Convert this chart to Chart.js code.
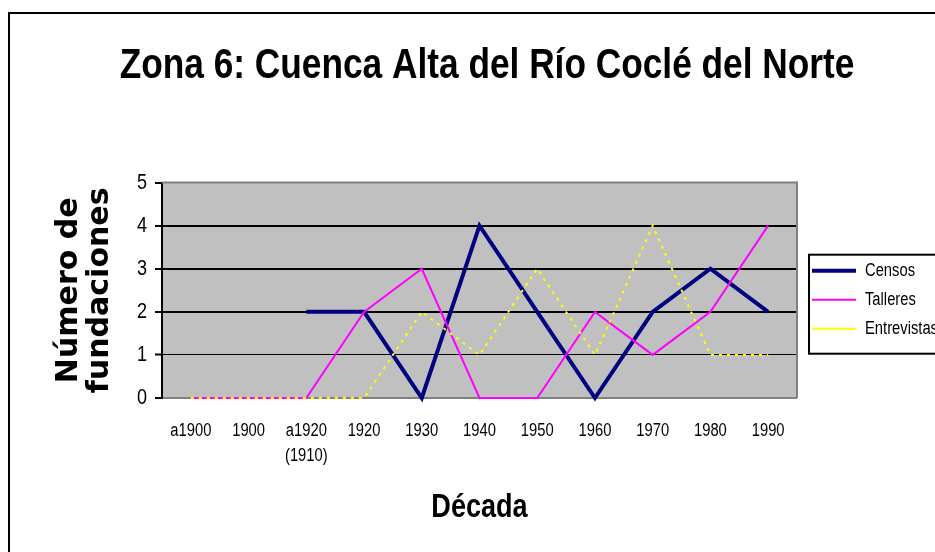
<!DOCTYPE html>
<html>
<head>
<meta charset="utf-8">
<script src="https://cdn.jsdelivr.net/npm/chart.js@4.4.1/dist/chart.umd.min.js"></script>
<style>
    html, body { margin: 0; padding: 0; background: #fff; overflow: hidden; }
    #frame { position: absolute; left: 8px; top: 12px; width: 957px; height: 560px; border: 2px solid #000; }
    canvas { display: block; }
</style>
</head>
<body>
<div id="frame"><canvas id="zonaChart" width="957" height="560"></canvas></div>
<script>
const decades = ['a1900', '1900', ['a1920', '(1910)'], '1920', '1930', '1940', '1950', '1960', '1970', '1980', '1990'];
const censos = [null, null, 2, 2, 0, 4, 2, 0, 2, 3, 2];
const talleres = [0, 0, 0, 2, 3, 0, 0, 2, 1, 2, 4];
const entrevistas = [0, 0, 0, 0, 2, 1, 3, 1, 4, 1, 1];
const yMin = 0, yMax = 5, yStep = 1;

const sans = "'Liberation Sans', Arial, sans-serif";
const NARROW = 0.82;

// the original uses a condensed Arial; squeeze Liberation Sans text horizontally
function condenseText(ctx) {
    const fill = ctx.fillText.bind(ctx);
    const measure = ctx.measureText.bind(ctx);
    const isNarrow = () => ctx.font.indexOf('Liberation') >= 0;
    ctx.fillText = function (text, x, y, maxWidth) {
        if (!isNarrow()) {
            return maxWidth === undefined ? fill(text, x, y) : fill(text, x, y, maxWidth);
        }
        ctx.save();
        ctx.translate(x, y);
        ctx.scale(NARROW, 1);
        if (maxWidth === undefined) fill(text, 0, 0);
        else fill(text, 0, 0, maxWidth / NARROW);
        ctx.restore();
    };
    ctx.measureText = function (text) {
        const m = measure(text);
        if (!isNarrow()) return m;
        return {
            width: m.width * NARROW,
            actualBoundingBoxLeft: m.actualBoundingBoxLeft * NARROW,
            actualBoundingBoxRight: m.actualBoundingBoxRight * NARROW,
            actualBoundingBoxAscent: m.actualBoundingBoxAscent,
            actualBoundingBoxDescent: m.actualBoundingBoxDescent
        };
    };
}

const plotFrame = {
    id: 'plotFrame',
    beforeDraw(chart) {
        const { ctx, chartArea: a } = chart;
        ctx.save();
        ctx.fillStyle = '#C0C0C0';
        ctx.fillRect(a.left, a.top, a.width, a.height);
        ctx.restore();
    },
    beforeDatasetsDraw(chart) {
        const { ctx, chartArea: a } = chart;
        ctx.save();
        ctx.strokeStyle = '#808080';
        ctx.lineWidth = 2;
        ctx.beginPath();
        ctx.moveTo(a.left, a.top);
        ctx.lineTo(a.right, a.top);
        ctx.lineTo(a.right, a.bottom);
        ctx.stroke();
        ctx.restore();
    },
    afterLayout(chart) {
        const lg = chart.legend;
        if (!lg) return;
        lg.top += 29; lg.bottom += 29;
        lg.left += 4; lg.right += 4;
    },
    afterDraw(chart) {
        const lg = chart.legend;
        if (!lg || !lg.legendHitBoxes.length) return;
        const boxes = lg.legendHitBoxes;
        const top = Math.min(...boxes.map(b => b.top)) - 7;
        const bottom = Math.max(...boxes.map(b => b.top + b.height)) + 16;
        const left = Math.min(...boxes.map(b => b.left)) - 3;
        const right = Math.max(...boxes.map(b => b.left + b.width)) + 10;
        const ctx = chart.ctx;
        ctx.save();
        ctx.strokeStyle = '#000';
        ctx.lineWidth = 2;
        ctx.strokeRect(left, top, right - left, bottom - top);
        ctx.restore();
    }
};

const ctx = document.getElementById('zonaChart').getContext('2d');
condenseText(ctx);

new Chart(ctx, {
    type: 'line',
    data: {
        labels: decades,
        datasets: [
            { label: 'Censos', data: censos, borderColor: '#000080', backgroundColor: '#000080', borderWidth: 4, pointRadius: 0, order: 2, clip: 6 },
            { label: 'Talleres', data: talleres, borderColor: '#FF00FF', backgroundColor: '#FF00FF', borderWidth: 2, pointRadius: 0, order: 1, clip: 6 },
            { label: 'Entrevistas', data: entrevistas, borderColor: '#FFFF00', backgroundColor: '#FFFF00', borderWidth: 2, borderDash: [3, 5], pointRadius: 0, order: 0, clip: 6 }
        ]
    },
    options: {
        responsive: false,
        animation: false,
        events: [],
        layout: { padding: { left: 20, right: 23, top: 0, bottom: 46.6 } },
        plugins: {
            title: {
                display: true,
                text: 'Zona 6: Cuenca Alta del Río Coclé del Norte',
                color: '#000',
                font: { family: sans, size: 43, weight: 'bold', lineHeight: 1.2 },
                padding: { top: 26, bottom: 91 }
            },
            legend: {
                position: 'right',
                labels: {
                    usePointStyle: true,
                    pointStyle: 'line',
                    pointStyleWidth: 44,
                    padding: 11,
                    color: '#000',
                    font: { family: sans, size: 18 },
                    sort: (a, b) => a.datasetIndex - b.datasetIndex
                }
            },
            tooltip: { enabled: false }
        },
        scales: {
            x: {
                offset: true,
                grid: { display: false, drawTicks: false, offset: true },
                border: { display: true, color: '#808080', width: 2 },
                ticks: {
                    color: '#000', padding: 20, maxRotation: 0, autoSkip: false,
                    font: { family: sans, size: 18, lineHeight: 1.4 }
                },
                title: {
                    display: true, text: 'Década', color: '#000', padding: 0,
                    font: { family: sans, size: 33, weight: 'bold', lineHeight: 1.2 }
                },
                afterFit(scale) { scale.height = 129.4; }
            },
            y: {
                min: yMin, max: yMax,
                ticks: { stepSize: yStep, color: '#000', padding: 8, font: { family: sans, size: 22 } },
                grid: {
                    color: c => (c.tick && (c.tick.value === yMin || c.tick.value === yMax)) ? 'rgba(0,0,0,0)' : '#000',
                    lineWidth: c => (c.tick && c.tick.value === 1) ? 1 : 2,
                    tickColor: '#000', tickLength: 7, tickWidth: 2
                },
                border: { color: '#000', width: 2 },
                title: {
                    display: true, text: ['Número de', 'fundaciones'], color: '#000',
                    font: { family: "'DejaVu Sans', sans-serif", size: 30, weight: 'bold', lineHeight: 1.05 },
                    padding: { top: 23, bottom: 0 }
                },
                afterFit(scale) { scale.width = 132; }
            }
        }
    },
    plugins: [plotFrame]
});
</script>
</body>
</html>
